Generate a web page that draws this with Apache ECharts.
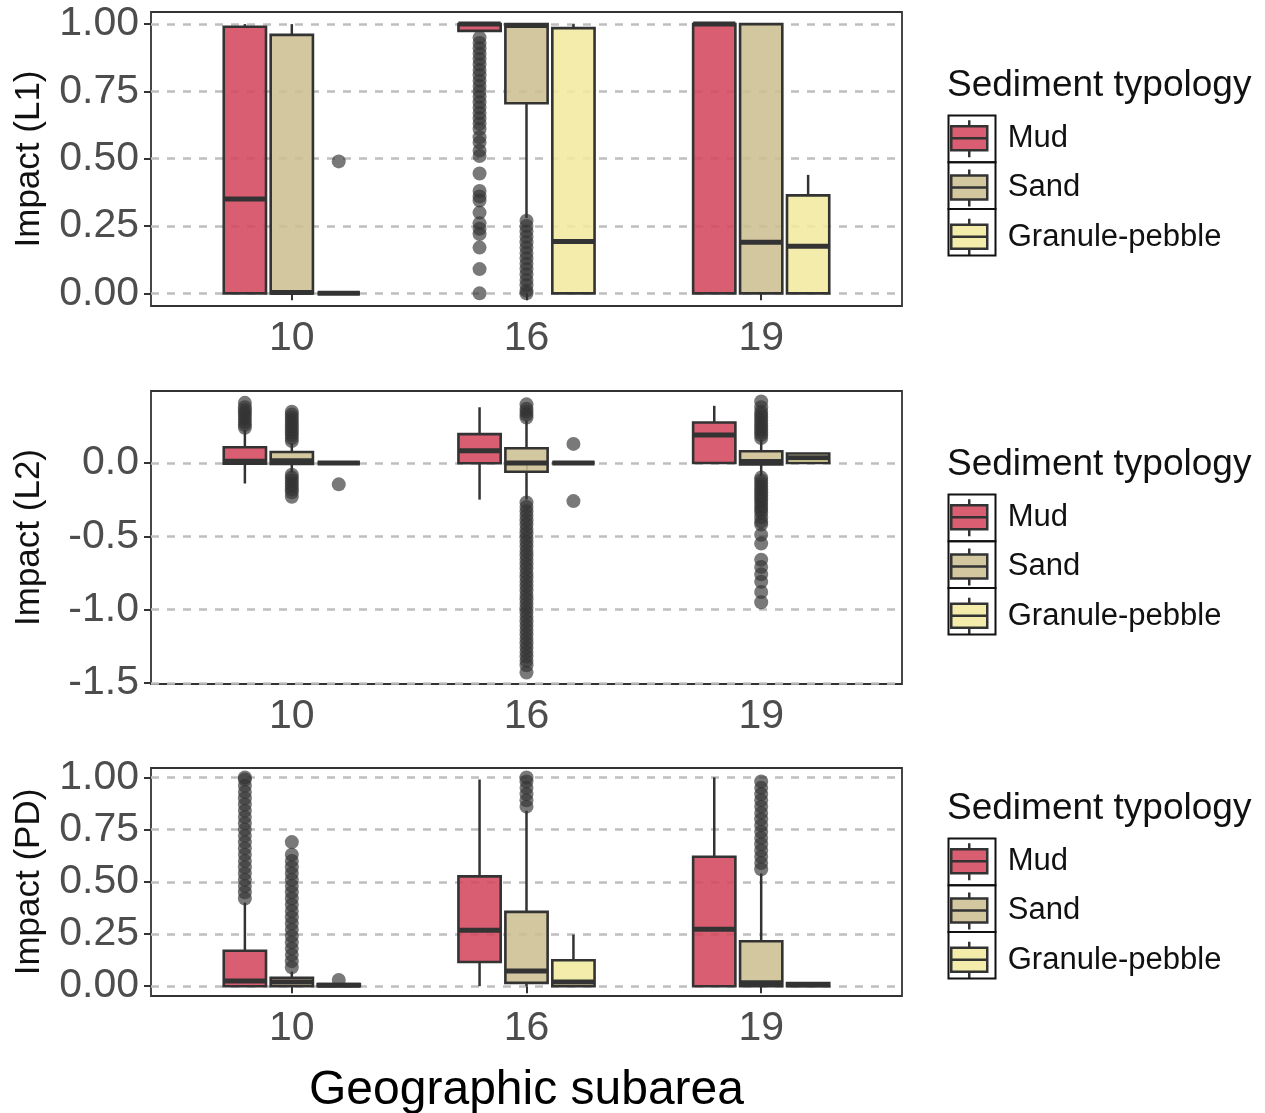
<!DOCTYPE html>
<html>
<head>
<meta charset="utf-8">
<script src="https://cdn.jsdelivr.net/npm/echarts@6/dist/echarts.min.js"></script>
<style>
html,body{margin:0;padding:0;background:#fff;}
#chart{width:1265px;height:1113px;}
</style>
</head>
<body>
<div id="chart"></div>
<script>
// ---------------- DATA ----------------
const subareas = ['10', '16', '19'];
const typologies = ['Mud', 'Sand', 'Granule-pebble'];
const yTicksL1 = [0, 0.25, 0.5, 0.75, 1.0];
const yTicksL2 = [0, -0.5, -1.0, -1.5];
const yTicksPD = [0, 0.25, 0.5, 0.75, 1.0];

// box stats per subarea: [lower whisker, Q1, median, Q3, upper whisker]
const l1Mud  = [[0, 0, 0.35, 0.99, 1.0], [0.975, 0.975, 1.0, 1.0, 1.0], [0, 0, 1.0, 1.0, 1.0]];
const l1Sand = [[0, 0, 0.003, 0.96, 1.0], [0.28, 0.706, 0.995, 1.0, 1.0], [0, 0, 0.19, 1.0, 1.0]];
const l1Gran = [[0, 0, 0, 0, 0], [0, 0, 0.193, 0.985, 1.0], [0, 0, 0.175, 0.364, 0.44]];

const l2Mud  = [[-0.14, -0.005, 0.012, 0.107, 0.225], [-0.25, -0.002, 0.084, 0.197, 0.38], [0, 0, 0.19, 0.276, 0.39]];
const l2Sand = [[-0.065, -0.007, 0.015, 0.075, 0.135], [-0.25, -0.06, 0.0, 0.10, 0.29], [-0.09, -0.01, 0.01, 0.08, 0.16]];
const l2Gran = [[0, 0, 0, 0, 0], [0, 0, 0, 0, 0], [0, 0, 0.035, 0.065, 0.065]];

const pdMud  = [[0, 0, 0.025, 0.17, 0.40], [0, 0.116, 0.268, 0.526, 0.99], [0, 0, 0.273, 0.62, 1.0]];
const pdSand = [[0, 0, 0.02, 0.04, 0.07], [0, 0.016, 0.073, 0.356, 0.84], [0, 0, 0.016, 0.215, 0.54]];
const pdGran = [[0, 0, 0.005, 0.01, 0.01], [0, 0, 0.02, 0.124, 0.247], [0, 0, 0.007, 0.015, 0.015]];

// outliers per subarea
const l1MudOut  = [[], [0.95, 0.93, 0.91, 0.89, 0.87, 0.85, 0.83, 0.81, 0.79, 0.77, 0.75, 0.73, 0.71, 0.69, 0.67, 0.65, 0.63, 0.61, 0.58, 0.56, 0.53, 0.51, 0.445, 0.38, 0.36, 0.345, 0.30, 0.26, 0.24, 0.22, 0.17, 0.09, 0.0], []];
const l1SandOut = [[], [0.27, 0.25, 0.23, 0.21, 0.19, 0.17, 0.15, 0.13, 0.11, 0.09, 0.07, 0.05, 0.03, 0.01, 0.0], []];
const l1GranOut = [[0.49], [], []];

const l2MudOut  = [[0.24, 0.26, 0.28, 0.30, 0.32, 0.34, 0.36, 0.38, 0.41], [], []];
const l2SandOut = [
  [0.15, 0.17, 0.19, 0.21, 0.23, 0.25, 0.27, 0.29, 0.31, 0.33, 0.35, -0.08, -0.10, -0.12, -0.14, -0.16, -0.18, -0.20, -0.23],
  [0.31, 0.33, 0.35, 0.37, 0.40, -0.27, -0.30, -0.33, -0.36, -0.39, -0.42, -0.45, -0.48, -0.51, -0.54, -0.57, -0.60, -0.63, -0.66, -0.69, -0.72, -0.75, -0.78, -0.81, -0.84, -0.87, -0.90, -0.93, -0.96, -0.99, -1.02, -1.05, -1.08, -1.11, -1.14, -1.17, -1.20, -1.23, -1.26, -1.29, -1.32, -1.35, -1.38, -1.43],
  [0.17, 0.19, 0.21, 0.23, 0.25, 0.27, 0.29, 0.31, 0.33, 0.35, 0.38, 0.42, -0.10, -0.12, -0.14, -0.16, -0.18, -0.20, -0.22, -0.24, -0.26, -0.28, -0.30, -0.32, -0.34, -0.37, -0.40, -0.42, -0.49, -0.55, -0.66, -0.71, -0.76, -0.81, -0.88, -0.95]
];
const l2GranOut = [[-0.146], [0.13, -0.26], []];

const pdMudOut  = [[0.42, 0.45, 0.48, 0.51, 0.54, 0.57, 0.60, 0.63, 0.66, 0.69, 0.72, 0.75, 0.78, 0.81, 0.84, 0.87, 0.90, 0.93, 0.96, 0.99, 1.0], [], []];
const pdSandOut = [
  [0.09, 0.12, 0.15, 0.18, 0.21, 0.24, 0.27, 0.30, 0.33, 0.36, 0.39, 0.42, 0.45, 0.48, 0.51, 0.54, 0.57, 0.60, 0.63, 0.69],
  [0.86, 0.89, 0.92, 0.95, 0.98, 1.0],
  [0.56, 0.59, 0.62, 0.65, 0.68, 0.71, 0.74, 0.77, 0.80, 0.83, 0.86, 0.89, 0.92, 0.95, 0.98]
];
const pdGranOut = [[0.03], [], []];

// ---------------- LAYOUT / STYLE ----------------
const FONT = 'Liberation Sans, Arial, sans-serif';
const fills = ['rgba(212,72,94,0.88)', 'rgba(205,191,147,0.88)', 'rgba(241,233,158,0.88)'];
const legendFills = ['#D95E71', '#D3C7A0', '#F3ECAA'];
const dodge = [-0.2, 0, 0.2];
const BOX_W = 0.18;
const DARK = '#333333';

const panels = [
  { name: 'Impact (L1)', top: 12, height: 294, min: -0.047, max: 1.045, ticks: yTicksL1, dec: 2,
    stats: [l1Mud, l1Sand, l1Gran], outs: [l1MudOut, l1SandOut, l1GranOut], legendTop: 113 },
  { name: 'Impact (L2)', top: 391, height: 293, min: -1.508, max: 0.491, ticks: yTicksL2, dec: 1,
    stats: [l2Mud, l2Sand, l2Gran], outs: [l2MudOut, l2SandOut, l2GranOut], legendTop: 492 },
  { name: 'Impact (PD)', top: 768, height: 228, min: -0.047, max: 1.045, ticks: yTicksPD, dec: 2,
    stats: [pdMud, pdSand, pdGran], outs: [pdMudOut, pdSandOut, pdGranOut], legendTop: 836 }
];

const ICON = 'path://M0,6L36,6L36,30L0,30ZM0,18L36,18M18,0L18,6M18,30L18,37';

function boxRender(typeIdx) {
  return function (params, api) {
    const xc = api.value(0);
    const lw = api.value(1), q1 = api.value(2), md = api.value(3), q3 = api.value(4), uw = api.value(5);
    const half = api.size([BOX_W, 0])[0] / 2;
    const pUw = api.coord([xc, uw]), pQ3 = api.coord([xc, q3]), pMd = api.coord([xc, md]);
    const pQ1 = api.coord([xc, q1]), pLw = api.coord([xc, lw]);
    const cx = pMd[0];
    const children = [];
    if (uw > q3) children.push({ type: 'line', shape: { x1: cx, y1: pUw[1], x2: cx, y2: pQ3[1] }, style: { stroke: DARK, lineWidth: 2.5 } });
    if (lw < q1) children.push({ type: 'line', shape: { x1: cx, y1: pQ1[1], x2: cx, y2: pLw[1] }, style: { stroke: DARK, lineWidth: 2.5 } });
    children.push({ type: 'rect', shape: { x: cx - half, y: pQ3[1], width: 2 * half, height: pQ1[1] - pQ3[1] },
      style: { fill: fills[typeIdx], stroke: DARK, lineWidth: 2.6 } });
    children.push({ type: 'line', shape: { x1: cx - half, y1: pMd[1], x2: cx + half, y2: pMd[1] }, style: { stroke: DARK, lineWidth: 5 } });
    return { type: 'group', children };
  };
}

const grids = [], xAxes = [], yAxes = [], series = [], legends = [], titles = [], graphics = [];

panels.forEach((p, k) => {
  grids.push({ left: 151, width: 751, top: p.top, height: p.height, show: true,
    outerBoundsMode: 'none', containLabel: false,
    borderColor: DARK, borderWidth: 1.8, backgroundColor: 'transparent' });
  xAxes.push({
    type: 'value', gridIndex: k, min: 0.4, max: 3.6,
    axisLine: { show: false }, splitLine: { show: false },
    axisTick: { show: true, customValues: [1, 2, 3], length: 7, lineStyle: { color: DARK, width: 2 } },
    axisLabel: { customValues: [1, 2, 3], formatter: v => subareas[Math.round(v) - 1],
      fontSize: 41, color: '#4D4D4D', fontFamily: FONT, margin: 12 },
    name: k === 2 ? 'Geographic subarea' : '', nameLocation: 'middle', nameGap: 71,
    nameTextStyle: { fontSize: 48, color: '#000', fontFamily: FONT }
  });
  yAxes.push({
    type: 'value', gridIndex: k, min: p.min, max: p.max,
    axisLine: { show: false },
    axisTick: { show: true, customValues: p.ticks, length: 7, lineStyle: { color: DARK, width: 2 } },
    axisLabel: { customValues: p.ticks, formatter: v => v.toFixed(p.dec), fontSize: 41, color: '#4D4D4D', fontFamily: FONT, margin: 12 },
    splitLine: { show: true, lineStyle: { color: '#BEBEBE', width: 2.5, type: [8, 8] } },
    name: p.name, nameLocation: 'middle', nameGap: 104,
    nameTextStyle: { fontSize: 35, color: '#111', fontFamily: FONT }
  });
  typologies.forEach((t, j) => {
    series.push({
      type: 'custom', name: t, xAxisIndex: k, yAxisIndex: k,
      itemStyle: { color: legendFills[j] },
      data: p.stats[j].map((s, i) => [i + 1 + dodge[j], s[0], s[1], s[2], s[3], s[4]]),
      encode: { x: 0, y: [1, 2, 3, 4, 5] },
      renderItem: boxRender(j), z: 2
    });
  });
  typologies.forEach((t, j) => {
    const pts = [];
    p.outs[j].forEach((arr, i) => arr.forEach(v => pts.push([i + 1 + dodge[j], v])));
    series.push({
      type: 'scatter', name: t + ' outliers', xAxisIndex: k, yAxisIndex: k,
      data: pts, symbolSize: 14, z: 3,
      itemStyle: { color: 'rgba(51,51,51,0.82)' }
    });
  });
  legends.push({
    orient: 'vertical', left: 950, top: p.legendTop + 6, padding: 0,
    itemWidth: 37, itemHeight: 37, itemGap: 9.7,
    selectedMode: false,
    data: typologies.map((t, j) => ({ name: t, icon: ICON,
      itemStyle: { color: legendFills[j], borderColor: DARK, borderWidth: 2.5 } })),
    textStyle: { fontSize: 31, lineHeight: 37, color: '#111', fontFamily: FONT, padding: [0, 0, 0, 15] }
  });
  titles.push({ text: 'Sediment typology', left: 947, top: p.legendTop - 46, padding: 0,
    textStyle: { fontSize: 37, fontWeight: 'normal', color: '#111', fontFamily: FONT } });
  for (let i = 0; i < 3; i++) {
    graphics.push({ type: 'rect', left: 946, top: p.legendTop + i * 46.7,
      shape: { x: 0, y: 0, width: 47, height: 46.7 },
      style: { fill: 'none', stroke: '#111', lineWidth: 2 }, z: 10 });
  }
});

const chart = echarts.init(document.getElementById('chart'), null, { renderer: 'canvas' });
chart.setOption({
  animation: false,
  backgroundColor: '#fff',
  textStyle: { fontFamily: FONT },
  title: titles,
  grid: grids,
  xAxis: xAxes,
  yAxis: yAxes,
  legend: legends,
  graphic: graphics,
  series: series
});
</script>
</body>
</html>
